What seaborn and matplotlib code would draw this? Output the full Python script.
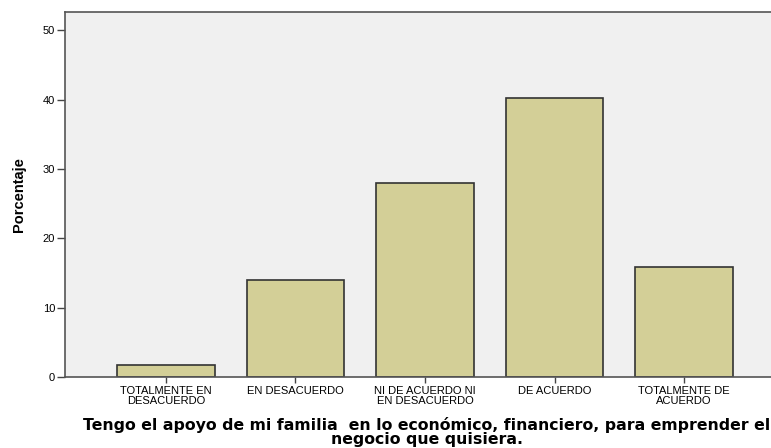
import pandas as pd
import matplotlib
matplotlib.use('Agg')
import matplotlib.pyplot as plt
import seaborn as sns

categorias = ['TOTALMENTE EN\nDESACUERDO', 'EN DESACUERDO', 'NI DE ACUERDO NI\nEN DESACUERDO',
              'DE ACUERDO', 'TOTALMENTE DE\nACUERDO']
porcentaje = [1.8, 14.0, 28.0, 40.2, 15.9]

data = pd.DataFrame({'Respuesta': categorias, 'Porcentaje': porcentaje})

sns.set_style('white')
plt.rcParams['font.family'] = ['Liberation Sans', 'DejaVu Sans']
plt.rcParams['text.color'] = 'black'
plt.rcParams['axes.labelcolor'] = 'black'

fig = plt.figure(figsize=(7.71, 4.48), dpi=100)
ax = fig.add_axes([0.0839, 0.1578, 0.9161, 0.8152])
ax.set_facecolor('#f0f0f0')

sns.barplot(x='Respuesta', y='Porcentaje', data=data, color='#d3cf97',
            edgecolor='#333333', linewidth=1.2, width=0.753, saturation=1, ax=ax)

ax.set_xlim(-0.78, 4.67)
ax.set_ylim(0, 52.6)
ax.set_yticks([0, 10, 20, 30, 40, 50])
ax.tick_params(axis='both', direction='out', length=5.8, width=1, color='#444444',
               labelsize=8, labelcolor='black', pad=1, bottom=True, left=True)
ax.tick_params(axis='x', length=4.5, pad=2)
for lab in ax.get_xticklabels():
    lab.set_linespacing(0.95)

for s in ['left', 'bottom', 'top']:
    ax.spines[s].set_color('#555555')
    ax.spines[s].set_linewidth(1.2)
ax.spines['right'].set_visible(False)

ax.set_ylabel('Porcentaje', fontsize=10.5, fontweight='bold', labelpad=12)
ax.set_xlabel('Tengo el apoyo de mi familia  en lo económico, financiero, para emprender el\nnegocio que quisiera.',
              fontsize=11.3, fontweight='bold', linespacing=0.85,
              family=['DejaVu Sans'])
ax.xaxis.set_label_coords((427 - 64.7) / (771 - 64.7), -0.11)
ax.xaxis.label.set_verticalalignment('top')

fig.savefig('out.png', dpi=100)
